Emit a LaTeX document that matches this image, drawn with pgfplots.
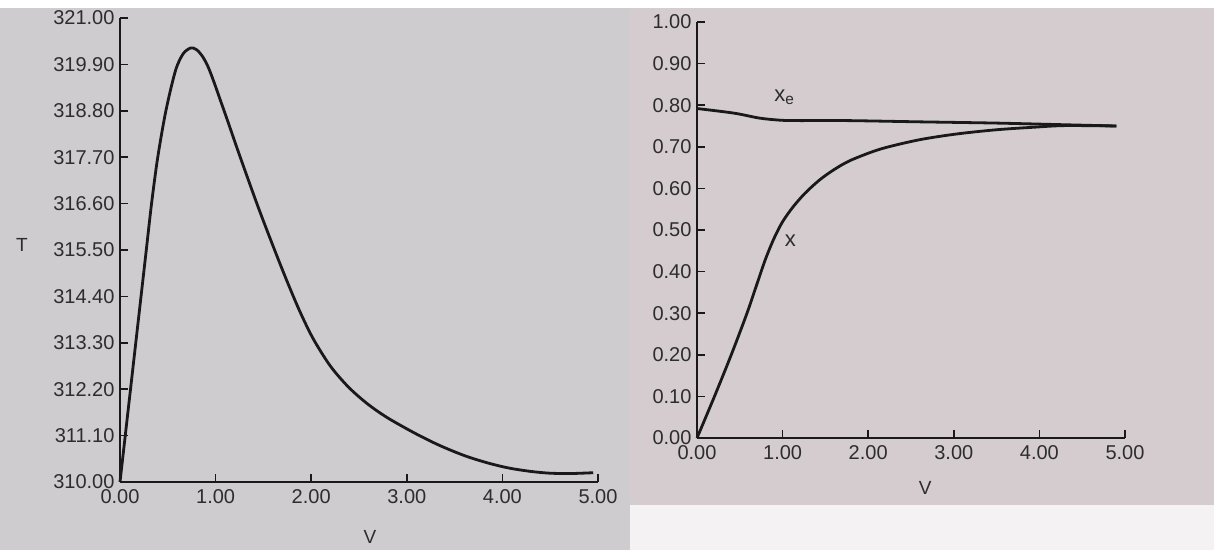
\documentclass[border=0pt]{standalone}
\usepackage{pgfplots}
\pgfplotsset{compat=1.18}
\usepackage{fontspec}
\setmainfont{Liberation Sans}
\definecolor{bgL}{RGB}{206,204,206}
\definecolor{bgR}{RGB}{212,204,207}
\definecolor{ink}{RGB}{25,25,25}
\definecolor{txt}{RGB}{45,45,45}
\pgfplotsset{
  common/.style={
    scale only axis, clip=false,
    axis x line=bottom, axis y line=left,
    axis line style={-, line width=2pt, color=ink},
    tick align=inside, major tick length=8pt,
    tick style={line width=1.6pt, color=ink},
    /pgf/number format/assume math mode=true,
    /pgf/number format/fixed,
    /pgf/number format/fixed zerofill,
    /pgf/number format/precision=2,
    ticklabel style={font=\fontsize{20}{22}\selectfont, text=txt},
    yticklabel style={xshift=-2pt},
    label style={font=\fontsize{19}{21}\selectfont, text=txt},
    xmin=0, xmax=5, xtick={0,1,2,3,4,5},
  },
  curve/.style={line width=2.8pt, color=ink, smooth, no markers},
}
\begin{document}
\begin{tikzpicture}
\fill[bgL] (0pt,0pt) rectangle (630pt,550pt);
\fill[bgR] (630pt,0pt) rectangle (1214pt,550pt);
\fill[white] (0pt,542pt) rectangle (1214pt,550pt);
\fill[white!75!bgR] (630pt,0pt) rectangle (1214pt,45pt);

\begin{axis}[common,
  at={(120pt,68pt)}, anchor=origin,
  width=478pt, height=464pt,
  ymin=310, ymax=321,
  ytick={310,311.1,312.2,313.3,314.4,315.5,316.6,317.7,318.8,319.9,321},
  xticklabel style={yshift=-4pt},
  xlabel={V}, ylabel={T},
  xlabel style={at={(axis description cs:0.523,-0.118)}, anchor=center},
  ylabel style={at={(axis description cs:-0.205,0.51)}, rotate=-90, anchor=center},
]
\addplot[curve] coordinates {
(0,310.0) (0.055,311.1) (0.11,312.2) (0.165,313.3) (0.22,314.4) (0.275,315.5)
(0.33,316.6) (0.395,317.7) (0.48,318.8) (0.58,319.75) (0.66,320.15) (0.74,320.29)
(0.80,320.25) (0.86,320.1) (0.92,319.85) (0.98,319.5) (1.05,319.05) (1.12,318.6)
(1.25,317.75) (1.44,316.55)
(1.60,315.60) (1.74,314.80) (1.88,314.05) (2.02,313.40) (2.2,312.75) (2.39,312.25)
(2.59,311.85) (2.8,311.52) (3.09,311.15) (3.35,310.86) (3.61,310.62) (3.85,310.45)
(4.07,310.33) (4.3,310.25) (4.49,310.21) (4.7,310.2) (4.95,310.22)
};
\end{axis}

\begin{axis}[common,
  at={(697pt,112pt)}, anchor=origin,
  width=428pt, height=416pt,
  ymin=0, ymax=1,
  ytick={0,0.1,0.2,0.3,0.4,0.5,0.6,0.7,0.8,0.9,1},
  xticklabel style={yshift=-4pt},
  xlabel={V},
  xlabel style={at={(axis description cs:0.533,-0.12)}, anchor=center},
]
\addplot[curve] coordinates {
(0,0.792) (0.43,0.781) (0.73,0.769) (0.97,0.764) (1.17,0.763) (1.75,0.763)
(2.6,0.760) (3.5,0.757) (4.3,0.753) (4.9,0.750)
};
\addplot[curve] coordinates {
(0,0) (0.204,0.10) (0.40,0.20) (0.584,0.30) (0.70,0.37) (0.80,0.43)
(0.90,0.48) (1.0,0.52) (1.12,0.555) (1.26,0.588) (1.43,0.62) (1.6,0.645)
(1.8,0.668) (2.15,0.695) (2.6,0.717) (3.04,0.731) (3.5,0.741) (3.93,0.747)
(4.3,0.751) (4.9,0.750)
};
\node[font=\fontsize{22}{24}\selectfont, text=txt] at (axis cs:1.02,0.82) {x\textsubscript{e}};
\node[font=\fontsize{22}{24}\selectfont, text=txt] at (axis cs:1.09,0.475) {x};
\end{axis}
\end{tikzpicture}
\end{document}
